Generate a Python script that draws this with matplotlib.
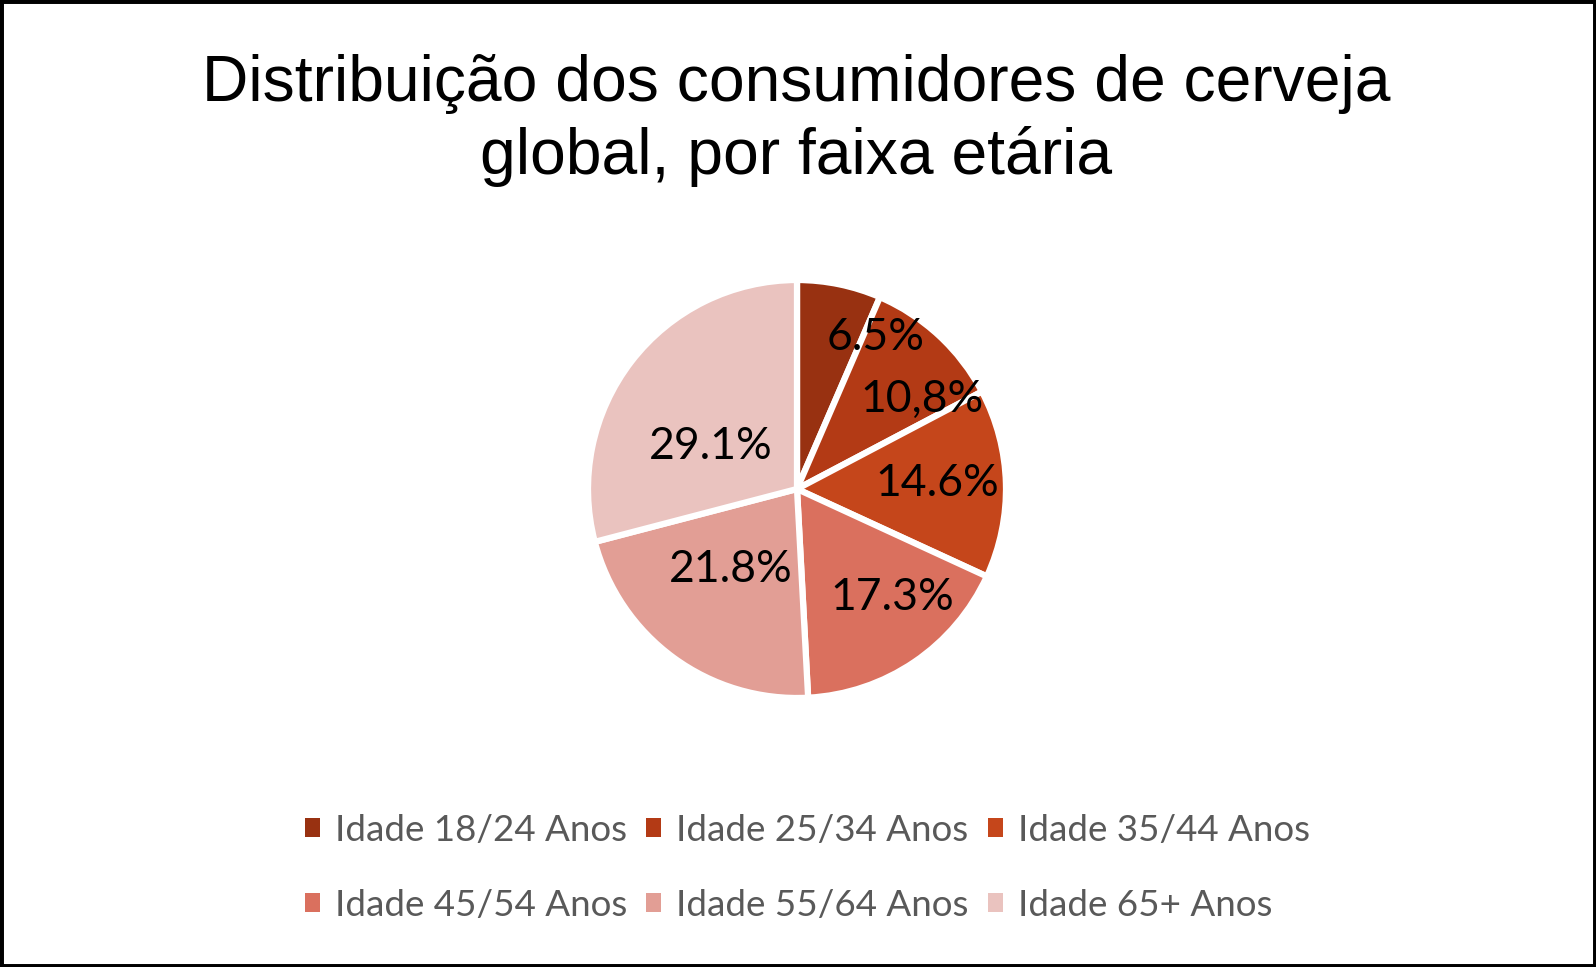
import matplotlib
matplotlib.use("Agg")
import matplotlib.pyplot as plt
import numpy as np
from matplotlib.patches import Rectangle

W, H = 1596, 967

# data
AGE_GROUPS = ["Idade 18/24 Anos", "Idade 25/34 Anos", "Idade 35/44 Anos",
              "Idade 45/54 Anos", "Idade 55/64 Anos", "Idade 65+ Anos"]
SHARES = [6.5, 10.8, 14.6, 17.3, 21.8, 29.1]
SHARE_LABELS = ["6.5%", "10,8%", "14.6%", "17.3%", "21.8%", "29.1%"]

COLORS = ["#983111", "#B33A15", "#C5461B", "#DA705E", "#E29E95", "#EAC3BF"]

# label placement (Excel "best fit" look): radius fraction, clockwise shift (deg)
LABEL_R = [0.815, 0.735, 0.67, 0.69, 0.50, 0.46]
LABEL_SHIFT = [15.8, 11.5, -0.7, -7.0, 3.5, -11.4]

LABEL_FONT = ["Lato", "DejaVu Sans"]
TITLE_FONT = ["Liberation Sans", "DejaVu Sans"]

fig = plt.figure(figsize=(W / 100, H / 100), dpi=100)
fig.patch.set_facecolor("white")

# pie axes: centre (797, 489) px, radius ~209 px
cx, cy, rad = 797, 489, 209
lim = 1.05
side = 2 * rad * lim
ax = fig.add_axes([(cx - side / 2) / W, 1 - (cy + side / 2) / H, side / W, side / H])
wedges, _ = ax.pie(SHARES, colors=COLORS, startangle=90, counterclock=False,
                   wedgeprops=dict(edgecolor="white", linewidth=4.5))
ax.set_xlim(-lim, lim)
ax.set_ylim(-lim, lim)
ax.set_aspect("equal")
ax.axis("off")

for w, lab, r, sh in zip(wedges, SHARE_LABELS, LABEL_R, LABEL_SHIFT):
    mid = np.deg2rad((w.theta1 + w.theta2) / 2 - sh)
    ax.text(r * np.cos(mid), r * np.sin(mid), lab, ha="center", va="center",
            fontsize=32, family=LABEL_FONT, color="black")

# title
fig.text(796 / W, 1 - 101 / H, "Distribuição dos consumidores de cerveja",
         ha="center", va="baseline", fontsize=46.2, family=TITLE_FONT, color="black")
fig.text(796 / W, 1 - 174 / H, "global, por faixa etária",
         ha="center", va="baseline", fontsize=46.2, family=TITLE_FONT, color="black")

# legend, filled row by row (matplotlib fills column-wise)
ncol = 3
order = [i for c in range(ncol) for i in range(c, len(AGE_GROUPS), ncol)]
fs = 26.5
fpx = fs * 100 / 72
leg = fig.legend([wedges[i] for i in order], [AGE_GROUPS[i] for i in order],
                 ncol=ncol, loc="upper left",
                 bbox_to_anchor=(305 / W, 1 - 814 / H), frameon=False,
                 borderpad=0, borderaxespad=0,
                 prop=dict(family=LABEL_FONT, size=fs), labelcolor="#595959",
                 handlelength=15 / fpx, handleheight=15 / fpx,
                 handletextpad=15 / fpx, columnspacing=19 / fpx,
                 labelspacing=1.14)
for h in leg.legend_handles:
    h.set_edgecolor("none")

# outer frame
fig.patches.append(Rectangle((0, 0), 1, 1, transform=fig.transFigure,
                             fill=False, edgecolor="black", linewidth=5,
                             zorder=10))

fig.savefig("out.png", dpi=100, facecolor="white")
